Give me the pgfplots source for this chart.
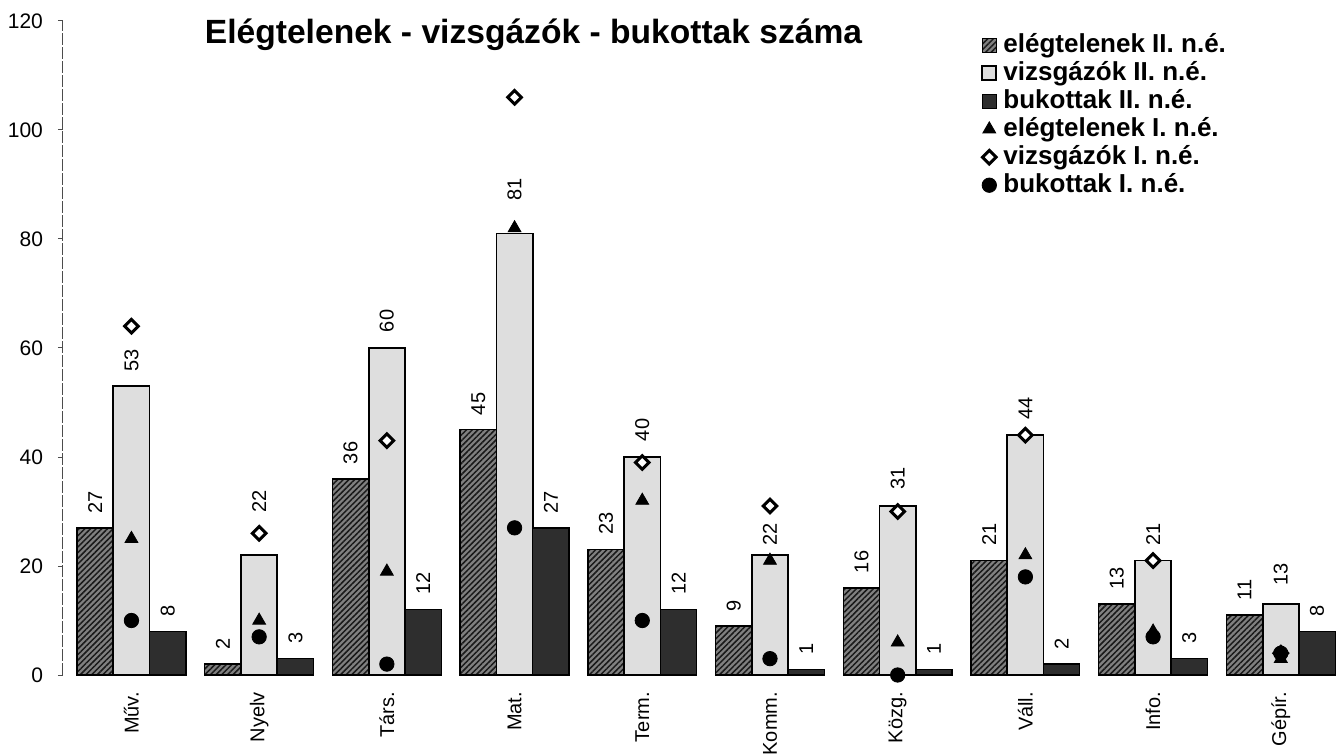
\documentclass[border=0pt]{standalone}
\usepackage{fontspec}
\setmainfont{Liberation Sans}
\usepackage{pgfplots}
\usepackage{pgfplotstable}
\pgfplotsset{compat=1.18}
\usetikzlibrary{patterns.meta}

\pgfplotsset{
  barleg/.style={legend image code/.code={\draw[##1] (0pt,-3.5pt) rectangle (7pt,3.5pt); \path (9.5pt,0pt);}},
  markleg/.style={legend image code/.code={\draw[##1] plot coordinates {(3.5pt,0pt)}; \path (9.5pt,0pt) (0pt,0pt);}},
}

\pgfplotstableread{
x eII vII bII eI vI bI vo
0 27 53 8  25 64 10 7
1 2  22 3  10 26 7  21
2 36 60 12 19 43 2  7.5
3 45 81 27 82 106 27 16
4 23 40 12 32 39 10 7.5
5 9  22 1  21 31 3  4.5
6 16 31 1  6  30 0  8
7 21 44 2  22 44 18 7.5
8 13 21 3  8  21 7  7
9 11 13 8  3  4  4  9
}\datatab

\begin{document}
\begin{tikzpicture}
\useasboundingbox (-31.5pt,-40pt) rectangle (637.5pt,337.5pt);
\begin{axis}[
  at={(0pt,0pt)}, anchor=south west,
  scale only axis, width=637.5pt, height=327pt,
  xmin=-0.536, xmax=9.448, ymin=0, ymax=120,
  axis x line=bottom, axis y line=left,
  axis line style={-},
  x axis line style={draw=none},
  y axis line style={line width=0.5pt, black!70, dash pattern=on 6pt off 1pt},
  tick align=outside,
  /pgf/number format/assume math mode=true,
  ytick={0,20,...,120},
  major tick length=2.5pt,
  ytick style={black!70, line width=0.5pt},
  yticklabel style={font=\fontsize{10.5}{12}\selectfont, xshift=-4pt},
  xtick={0,...,9},
  xticklabels={Műv., Nyelv, Társ., Mat., Term., Komm., Közg., Váll., Info., Gépír.},
  xtick style={draw=none},
  minor xtick={0.5,1.5,...,8.5},
  minor tick length=2pt,
  minor x tick style={black, line width=0.4pt},
  xticklabel style={rotate=90, anchor=east, font=\fontsize{10}{12}\selectfont, xshift=-2.5pt},
  legend style={at={(rel axis cs:0.72,0.985)}, anchor=north west, draw=none, fill=none,
    font=\bfseries\fontsize{13}{15}\selectfont, row sep=0pt, inner sep=0pt,
    nodes={inner sep=0.6pt, text height=10pt, text depth=2.8pt}},
  legend cell align=left,
  every node near coord/.append style={rotate=90, anchor=west, font=\fontsize{10}{12}\selectfont, inner xsep=7pt, inner ysep=1pt, black},
  clip=false,
]
\addplot[ybar, bar width=0.284, bar shift=0, draw=black, line width=0.7pt, fill=black!50,
  postaction={pattern={Lines[angle=45, distance=2pt, line width=0.75pt]}, pattern color=black!90},
  nodes near coords, barleg]
  table[x expr=\thisrow{x}-0.284, y=eII] {\datatab};
\addlegendentry{elégtelenek II. n.é.}
\addplot[ybar, bar width=0.284, bar shift=0, draw=black, line width=0.9pt, fill=black!13,
  visualization depends on={\thisrow{vo} \as \vo},
  nodes near coords, every node near coord/.append style={inner xsep=\vo pt}, barleg]
  table[x=x, y=vII] {\datatab};
\addlegendentry{vizsgázók II. n.é.}
\addplot[ybar, bar width=0.284, bar shift=0, draw=black, line width=0.7pt, fill=black!82,
  nodes near coords, barleg]
  table[x expr=\thisrow{x}+0.284, y=bII] {\datatab};
\addlegendentry{bukottak II. n.é.}
\addplot[only marks, mark=triangle*, mark size=3.7pt, mark options={fill=black, draw=black}, markleg]
  table[x=x, y=eI] {\datatab};
\addlegendentry{elégtelenek I. n.é.}
\addplot[only marks, mark=square*, mark size=2.4pt, mark options={rotate=45, fill=white, draw=black, line width=1.5pt}, markleg]
  table[x=x, y=vI] {\datatab};
\addlegendentry{vizsgázók I. n.é.}
\addplot[only marks, mark=*, mark size=3.6pt, mark options={fill=black, draw=black}, markleg]
  table[x=x, y=bI] {\datatab};
\addlegendentry{bukottak I. n.é.}
\node[anchor=west, inner sep=0pt, font=\bfseries\fontsize{16.8}{20}\selectfont] at (rel axis cs:0.111,0.9786) {Elégtelenek - vizsgázók - bukottak száma};
\end{axis}
\end{tikzpicture}
\end{document}
